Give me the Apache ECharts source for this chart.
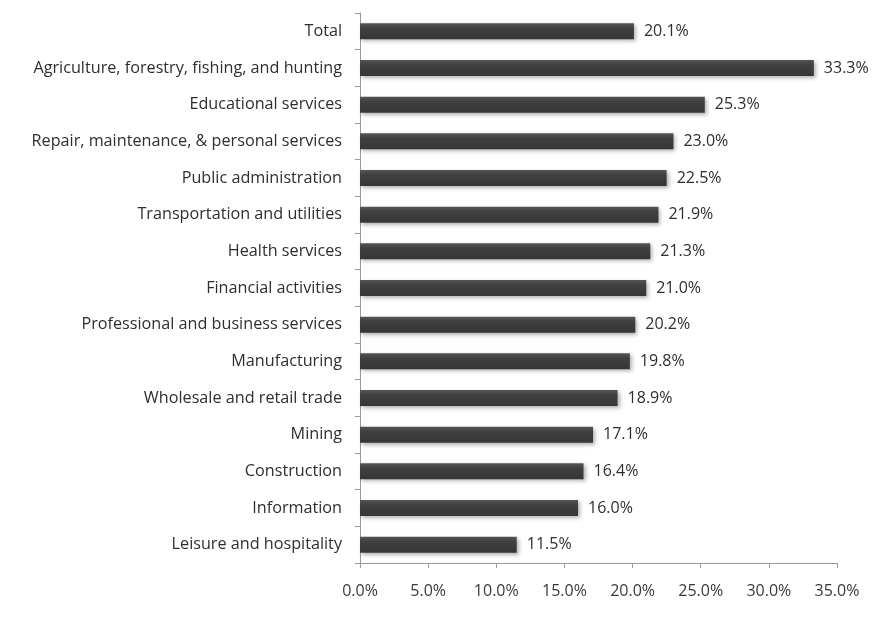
<!DOCTYPE html>
<html>
<head>
<meta charset="utf-8">
<script src="https://cdn.jsdelivr.net/npm/echarts@6/dist/echarts.min.js"></script>
<style>
  html, body { margin: 0; padding: 0; background: #fff; }
  #chart { width: 885px; height: 620px; }
</style>
</head>
<body>
<div id="chart"></div>
<script>
// Industries, listed top to bottom
const industries = [
  'Total',
  'Agriculture, forestry, fishing, and hunting',
  'Educational services',
  'Repair, maintenance, & personal services',
  'Public administration',
  'Transportation and utilities',
  'Health services',
  'Financial activities',
  'Professional and business services',
  'Manufacturing',
  'Wholesale and retail trade',
  'Mining',
  'Construction',
  'Information',
  'Leisure and hospitality'
];

// Share in percent, same order as industries
const shares = [20.1, 33.3, 25.3, 23.0, 22.5, 21.9, 21.3, 21.0, 20.2, 19.8, 18.9, 17.1, 16.4, 16.0, 11.5];

// Value axis range and step (percent)
const axisMin = 0;
const axisMax = 35;
const axisStep = 5;

const fontFamily = 'Open Sans, Noto Sans, sans-serif';
const chart = echarts.init(document.getElementById('chart'));

chart.setOption({
  backgroundColor: '#ffffff',
  animation: false,
  grid: { left: 360, right: 48, top: 13, bottom: 57, containLabel: false },
  xAxis: {
    type: 'value',
    min: axisMin,
    max: axisMax,
    interval: axisStep,
    axisLine: { show: true, lineStyle: { color: '#9a9a9a', width: 1 } },
    axisTick: { show: true, length: 5, lineStyle: { color: '#9a9a9a' } },
    splitLine: { show: false },
    axisLabel: {
      color: '#3a3a3a',
      fontFamily: fontFamily,
      fontSize: 16,
      margin: 20,
      formatter: v => v.toFixed(1) + '%'
    }
  },
  yAxis: {
    type: 'category',
    data: industries,
    inverse: true,
    axisLine: { show: true, lineStyle: { color: '#9a9a9a', width: 1 } },
    axisTick: { show: true, length: 5, alignWithLabel: false, lineStyle: { color: '#9a9a9a' } },
    axisLabel: {
      color: '#2e2e2e',
      fontFamily: fontFamily,
      fontSize: 16.2,
      margin: 18
    }
  },
  series: [{
    type: 'bar',
    data: shares,
    barWidth: 16,
    itemStyle: {
      color: new echarts.graphic.LinearGradient(0, 0, 0, 1, [
        { offset: 0, color: '#555555' },
        { offset: 0.3, color: '#404040' },
        { offset: 1, color: '#363636' }
      ]),
      shadowColor: 'rgba(0,0,0,0.3)',
      shadowBlur: 4,
      shadowOffsetX: 2,
      shadowOffsetY: 2
    },
    label: {
      show: true,
      position: 'right',
      distance: 10,
      color: '#2e2e2e',
      fontFamily: fontFamily,
      fontSize: 16,
      formatter: p => p.value.toFixed(1) + '%'
    }
  }]
});
</script>
</body>
</html>
